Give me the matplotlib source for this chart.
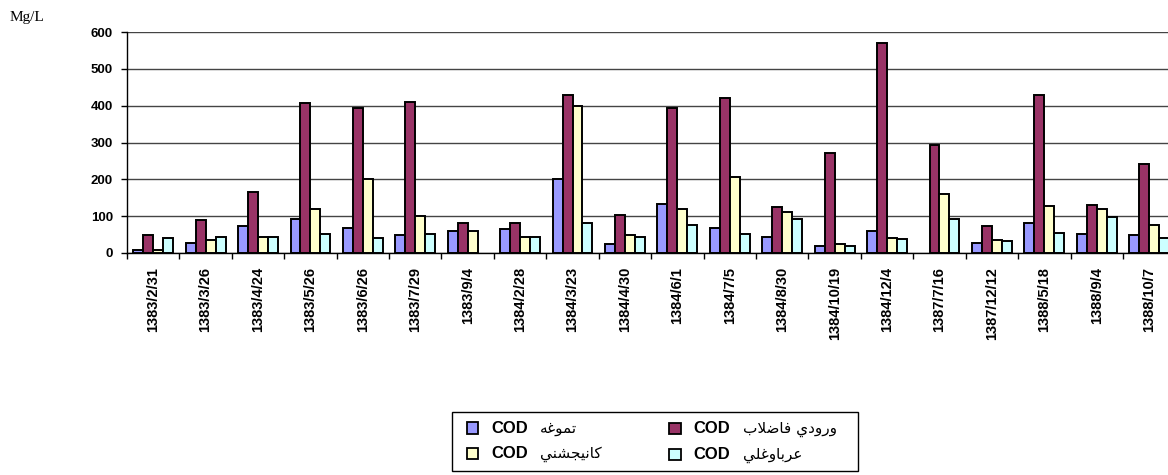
import numpy as np
import matplotlib
matplotlib.use("Agg")
import matplotlib.pyplot as plt
from matplotlib.patches import Rectangle
from matplotlib.offsetbox import (AnchoredOffsetbox, HPacker, VPacker,
                                  TextArea, DrawingArea)

plt.rcParams['font.family'] = ['Liberation Sans', 'DejaVu Sans']

# sampling dates
dates = ["1383/2/31", "1383/3/26", "1383/4/24", "1383/5/26", "1383/6/26",
         "1383/7/29", "1383/9/4", "1384/2/28", "1384/3/23", "1384/4/30",
         "1384/6/1", "1384/7/5", "1384/8/30", "1384/10/19", "1384/12/4",
         "1387/7/16", "1387/12/12", "1388/5/18", "1388/9/4", "1388/10/7"]

cod_tamugha = [8, 27, 72, 91, 69, 50, 61, 64, 201, 24,
               133, 69, 44, 20, 61, None, 28, 81, 52, 48]
cod_inlet = [48, 89, 165, 408, 393, 410, 81, 81, 430, 102,
             393, 421, 125, 272, 571, 292, 72, 428, 129, 241]
cod_kani = [8, 34, 43, 120, 201, 100, 61, 43, 400, 49,
            120, 206, 112, 24, 42, 161, 36, 128, 119, 75]
cod_arab = [41, 44, 44, 52, 41, 52, None, 44, 81, 44,
            76, 52, 92, 18, 37, 93, 33, 54, 98, 42]

# arabic labels, already shaped (presentation forms) in visual order
name_tamugha = "\uFEEA\uFECF\uFEEE\uFEE4\uFE97"
name_inlet = "\uFE8F\uFEFC\uFEBF\uFE8E\uFED3 \uFEF1\uFEA9\uFEED\uFEAD\uFEED"
name_kani = "\uFEF2\uFEE8\uFEB8\uFEA0\uFEF4\uFEE7\uFE8E\uFEDB"
name_arab = "\uFEF2\uFEE0\uFECF\uFEED\uFE8E\uFE91\uFEAE\uFECB"

series = [(cod_tamugha, '#9999FF', name_tamugha),
          (cod_inlet, '#993366', name_inlet),
          (cod_kani, '#FFFFCC', name_kani),
          (cod_arab, '#CCFFFF', name_arab)]

fig = plt.figure(figsize=(11.68, 4.75), dpi=100)
ax = fig.add_axes([0.1087, 0.4674, 0.8976, 0.4652])

x = np.arange(len(dates)) + 0.5
w = 0.19
for k, (vals, col, name) in enumerate(series):
    keep = [i for i, v in enumerate(vals) if v is not None]
    ax.bar(x[keep] + (k - 1.5) * w, [vals[i] for i in keep], width=w,
           color=col, edgecolor='black', linewidth=1.4, zorder=3)

ax.set_xlim(0, len(dates))
ax.set_ylim(0, 600)
ax.set_yticks(np.arange(0, 601, 100))
ax.yaxis.grid(True, color='#444444', linewidth=1)
ax.set_axisbelow(True)
for s in ['top', 'right']:
    ax.spines[s].set_visible(False)
ax.spines['left'].set_linewidth(1)
ax.spines['bottom'].set_linewidth(1)

# ticks at group borders, labels at group centres
ax.set_xticks(np.arange(0, len(dates) + 1))
ax.set_xticklabels([])
ax.set_xticks(x, minor=True)
ax.set_xticklabels(dates, minor=True, rotation=90, fontsize=10.5,
                   fontweight='bold')
ax.tick_params(axis='x', which='major', direction='out', length=4, width=1)
ax.tick_params(axis='x', which='minor', length=0, pad=10)
ax.tick_params(axis='y', direction='out', length=4, width=1, pad=6)
for t in ax.get_yticklabels():
    t.set_fontweight('bold')
    t.set_fontsize(9.5)

fig.text(10 / 1168, 1 - 17 / 475, "Mg/L", family='Liberation Serif',
         fontsize=11, va='center', ha='left')


# legend built by hand so that "COD" is bold and the name is regular
def entry(col, name):
    da = DrawingArea(9, 9, 0, 0)
    da.add_artist(Rectangle((0.5, 0.5), 8, 8, facecolor=col,
                            edgecolor='black', linewidth=1.3))
    t1 = TextArea("COD", textprops=dict(fontweight='bold', fontsize=12))
    t2 = TextArea(name, textprops=dict(fontsize=11, family='DejaVu Sans'))
    return HPacker(children=[da, t1, t2], pad=0, sep=9, align='center')


col1 = VPacker(children=[entry(series[0][1], series[0][2]),
                         entry(series[2][1], series[2][2])],
               pad=0, sep=7, align='left')
col2 = VPacker(children=[entry(series[1][1], series[1][2]),
                         entry(series[3][1], series[3][2])],
               pad=0, sep=7, align='left')
cols = HPacker(children=[col1, col2], pad=0, sep=48, align='top')
box = HPacker(children=[DrawingArea(4, 1, 0, 0), cols,
                        DrawingArea(9, 1, 0, 0)],
              pad=0, sep=0, align='center')
leg = AnchoredOffsetbox(loc='center', child=box, pad=0.6, borderpad=0,
                        frameon=True,
                        bbox_to_anchor=(655 / 1168, 1 - 441.5 / 475),
                        bbox_transform=fig.transFigure)
leg.patch.set_boxstyle('square', pad=0)
leg.patch.set_edgecolor('black')
leg.patch.set_linewidth(1)
fig.add_artist(leg)

fig.savefig('out.png', dpi=100)
